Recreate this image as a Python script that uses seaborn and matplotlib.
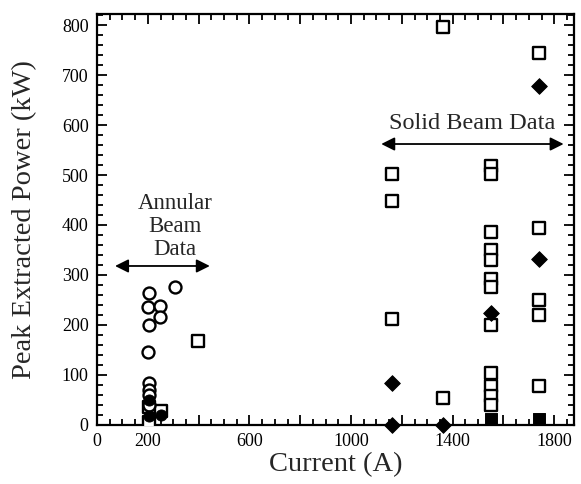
import matplotlib
matplotlib.use("Agg")
import matplotlib.pyplot as plt
import seaborn as sns
import pandas as pd
from matplotlib.ticker import MultipleLocator, FixedLocator

# ---- data ----
circ_x = [205, 202, 206, 248, 248, 202, 206, 307, 205, 205, 205]
circ_y = [264, 236, 200, 238, 216, 145, 83, 276, 70, 60, 40]
fcirc_x = [205, 205, 250]
fcirc_y = [50, 18, 20]
sq_x = [205, 205, 250, 398,
        1160, 1160, 1160,
        1362, 1362,
        1551, 1551, 1551, 1551, 1551, 1551, 1551, 1551, 1551, 1551, 1551, 1551,
        1740, 1740, 1740, 1740, 1740]
sq_y = [35, 5, 28, 168,
        503, 447, 211,
        797, 53,
        518, 502, 385, 349, 330, 291, 275, 200, 103, 77, 58, 40,
        745, 393, 250, 220, 77]
dia_x = [1160, 1160, 1362, 1551, 1740, 1740]
dia_y = [83, 0, 0, 223, 679, 331]
fsq_x = [1551, 1740]
fsq_y = [11, 11]

xtick_vals = [0, 200, 400, 600, 800, 1000, 1200, 1400, 1600, 1800]
xtick_labels = ["0", "200", "", "600", "", "1000", "", "1400", "", "1800"]
ytick_vals = [0, 100, 200, 300, 400, 500, 600, 700, 800]

sns.set_theme(style="ticks")
plt.rcParams["font.family"] = ["Liberation Serif", "DejaVu Serif"]

fig = plt.figure(figsize=(5.81, 4.84), dpi=100)
ax = fig.add_axes([0.167, 0.122, 0.821, 0.849])

ms = 64
sns.scatterplot(x=sq_x, y=sq_y, marker="s", s=ms, facecolor="white",
                edgecolor="black", linewidth=1.7, ax=ax, zorder=3)
sns.scatterplot(x=circ_x, y=circ_y, marker="o", s=ms + 10, facecolor="white",
                edgecolor="black", linewidth=1.7, ax=ax, zorder=3)
sns.scatterplot(x=fcirc_x, y=fcirc_y, marker="o", s=ms, color="black",
                edgecolor="black", ax=ax, zorder=4)
sns.scatterplot(x=dia_x, y=dia_y, marker="D", s=ms, color="black",
                edgecolor="black", ax=ax, zorder=4, clip_on=False)
sns.scatterplot(x=fsq_x, y=fsq_y, marker="s", s=ms + 10, color="black",
                edgecolor="black", ax=ax, zorder=4)

ax.set_xlim(0, 1878)
ax.set_ylim(0, 822)
ax.xaxis.set_major_locator(FixedLocator(xtick_vals))
ax.set_xticklabels(xtick_labels)
ax.xaxis.set_minor_locator(MultipleLocator(50))
ax.yaxis.set_major_locator(FixedLocator(ytick_vals))
ax.yaxis.set_minor_locator(MultipleLocator(20))
ax.tick_params(which="both", direction="in", top=True, right=True,
               labelsize=13, colors="black", width=1.3)
ax.tick_params(which="major", length=7, pad=6)
ax.tick_params(which="minor", length=4)
for sp in ax.spines.values():
    sp.set_linewidth(1.6)
    sp.set_color("black")

ax.set_xlabel("Current (A)", fontsize=20.5, labelpad=1)
ax.set_ylabel("Peak Extracted Power (kW)", fontsize=20.5, labelpad=18)

# annotations
ax.text(307, 330, "Annular\nBeam\nData", ha="center", va="bottom",
        fontsize=16.5, linespacing=1.12)
ax.annotate("", xy=(60, 318), xytext=(455, 318),
            arrowprops=dict(arrowstyle="<|-|>", color="black", lw=1.3,
                            mutation_scale=20))
ax.text(1476, 582, "Solid Beam Data", ha="center", va="bottom", fontsize=17.5)
ax.annotate("", xy=(1108, 562), xytext=(1848, 562),
            arrowprops=dict(arrowstyle="<|-|>", color="black", lw=1.3,
                            mutation_scale=20))

fig.savefig("out.png", dpi=100)
